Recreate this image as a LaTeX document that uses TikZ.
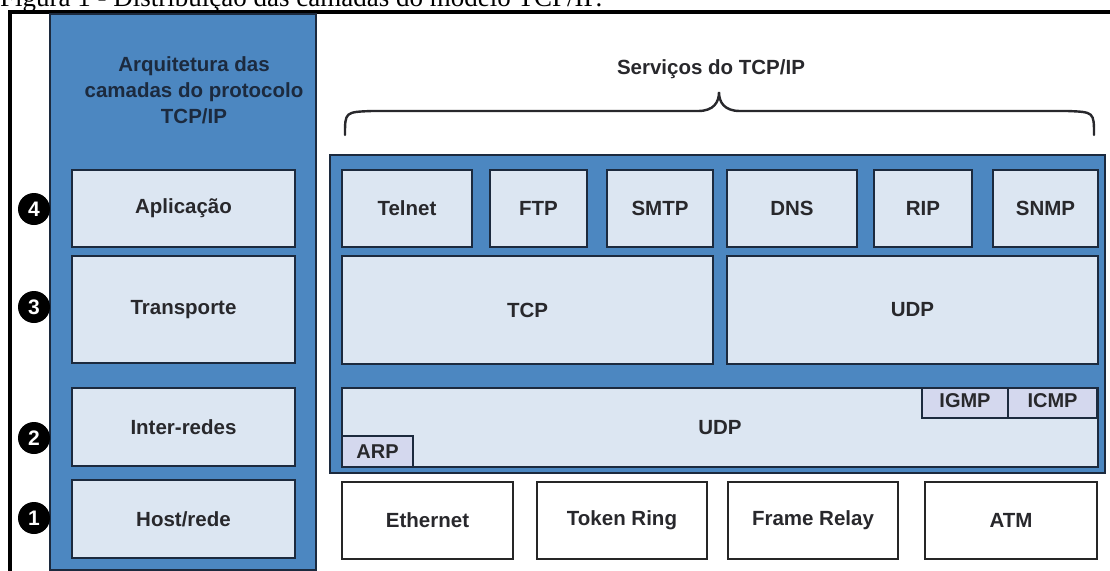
\documentclass[tikz,border=0pt]{standalone}
\usepackage{fontspec}
\setmainfont{Liberation Serif}
\newfontfamily\lsans{Liberation Sans}
\definecolor{panelblue}{RGB}{76,135,193}
\definecolor{boxfill}{RGB}{220,230,242}
\definecolor{subfill}{RGB}{212,216,238}
\definecolor{navy}{RGB}{28,42,62}
\definecolor{txt}{RGB}{40,40,44}
\tikzset{
  panel/.style={draw=navy, line width=2.2pt, fill=panelblue, inner sep=0pt},
  layerbox/.style={draw=navy, line width=2.4pt, fill=boxfill, inner sep=0pt,
    text=txt, font=\lsans\bfseries\fontsize{20.5}{23}\selectfont},
  subbox/.style={draw=navy, line width=2.2pt, fill=subfill, inner sep=0pt,
    text=txt, font=\lsans\bfseries\fontsize{20}{22}\selectfont},
  netbox/.style={draw=black!85, line width=1.8pt, fill=white, inner sep=0pt,
    text=txt, font=\lsans\bfseries\fontsize{20.5}{23}\selectfont},
  numdot/.style={circle, fill=black, text=white, minimum size=32pt, inner sep=0pt,
    font=\lsans\bfseries\fontsize{21}{23}\selectfont},
}
\begin{document}
\begin{tikzpicture}[x=1pt, y=-1pt]
\useasboundingbox (0,0) rectangle (1110,570);
\clip (0,0) rectangle (1110,570);
\fill[white] (0,0) rectangle (1110,570);
% caption (its top is cut off in the reference)
\node[anchor=base west, inner sep=0pt, font=\fontsize{27}{30}\selectfont] (caption) at (0,6.5) {Figura 1 - Distribuição das camadas do modelo TCP/IP.};
% frame
\draw[line width=4pt, black] (10,580) -- (10,12) -- (1120,12);
% left column
\node[panel, minimum width=266pt, minimum height=556pt] (arch) at (183,292) {};
\node[align=center, text=navy, font=\lsans\bfseries\fontsize{20.5}{26}\selectfont] (archtitle) at (194,90) {Arquitetura das\\camadas do protocolo\\TCP/IP};
\node[layerbox, minimum width=223pt, minimum height=77pt] (apl) at (183.5,208.5) {Aplicação};
\node[layerbox, minimum width=223pt, minimum height=107pt] (trans) at (183.5,309.5) {Transporte};
\node[layerbox, minimum width=223pt, minimum height=78pt] (inter) at (183.5,427) {Inter-redes};
\node[layerbox, minimum width=223pt, minimum height=78pt] (host) at (183.5,519) {Host/rede};
% numbers
\node[numdot] (n4) at (34,209) {4};
\node[numdot] (n3) at (34,307) {3};
\node[numdot] (n2) at (34,438) {2};
\node[numdot] (n1) at (34,518) {1};
% services title and brace
\node[text=txt, font=\lsans\bfseries\fontsize{20.5}{23}\selectfont] (serv) at (711,69) {Serviços do TCP/IP};
\coordinate (bl) at (345,135);
\coordinate (bm) at (719,92);
\coordinate (br) at (1094,135);
\draw[line width=2.4pt, txt, line cap=round]
  (bl) .. controls (345,112) .. (372,111) -- (698,111)
  .. controls (714,111) and (719,102) .. (bm)
  .. controls (719,102) and (724,111) .. (740,111) -- (1067,111)
  .. controls (1094,112) .. (br);
% right panel
\node[panel, minimum width=775pt, minimum height=318pt] (svc) at (717.5,314) {};
\node[layerbox, minimum width=130pt, minimum height=77pt] (telnet) at (407,208.5) {Telnet};
\node[layerbox, minimum width=97pt, minimum height=77pt] (ftp) at (538.5,208.5) {FTP};
\node[layerbox, minimum width=106pt, minimum height=77pt] (smtp) at (660,208.5) {SMTP};
\node[layerbox, minimum width=130pt, minimum height=77pt] (dns) at (792,208.5) {DNS};
\node[layerbox, minimum width=98pt, minimum height=77pt] (rip) at (923,208.5) {RIP};
\node[layerbox, minimum width=105pt, minimum height=77pt] (snmp) at (1045.5,208.5) {SNMP};
\node[layerbox, minimum width=371pt, minimum height=108pt] (tcp) at (527.5,310) {TCP};
\node[layerbox, minimum width=371pt, minimum height=108pt] (udp) at (912.5,310) {UDP};
\node[layerbox, minimum width=756pt, minimum height=79pt] (ip) at (720,427.5) {UDP};
\node[subbox, minimum width=71pt, minimum height=31pt] (arp) at (377.5,451.5) {ARP};
\node[subbox, minimum width=86pt, minimum height=30pt] (igmp) at (965,403) {\raisebox{4pt}{IGMP}};
\node[subbox, minimum width=89pt, minimum height=30pt] (icmp) at (1052.5,403) {\raisebox{4pt}{ICMP}};
% network technologies
\node[netbox, minimum width=171pt, minimum height=77pt] (eth) at (427.5,520.5) {Ethernet};
\node[netbox, minimum width=170pt, minimum height=77pt] (tring) at (622,520.5) {Token Ring};
\node[netbox, minimum width=170pt, minimum height=77pt] (frelay) at (813,520.5) {Frame Relay};
\node[netbox, minimum width=172pt, minimum height=77pt] (atm) at (1011,520.5) {ATM};
\end{tikzpicture}
\end{document}
